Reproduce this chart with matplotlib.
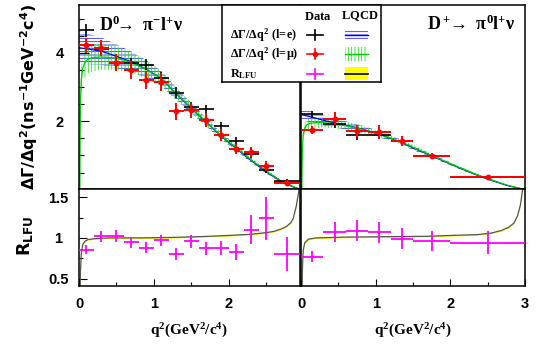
import matplotlib
matplotlib.use("Agg")
import matplotlib.pyplot as plt
from matplotlib.patches import Rectangle
import numpy as np

plt.rcParams['mathtext.fontset'] = 'custom'
plt.rcParams['mathtext.rm'] = 'Liberation Serif:bold'
plt.rcParams['mathtext.bf'] = 'Liberation Serif:bold'
plt.rcParams['mathtext.it'] = 'Liberation Serif:bold'
plt.rcParams['hatch.linewidth'] = 0.6
SANS = ['Liberation Sans', 'DejaVu Sans']

# ---------------- data: D0 -> pi- l+ nu ----------------
d0_q2 = [0.1, 0.3, 0.5, 0.7, 0.9, 1.1, 1.3, 1.5, 1.7, 1.9, 2.1, 2.3, 2.5, 2.78]
d0_dq = [0.1, 0.1, 0.1, 0.1, 0.1, 0.1, 0.1, 0.1, 0.1, 0.1, 0.1, 0.1, 0.1, 0.18]
d0_e = [4.66, 4.10, 3.69, 3.69, 3.66, 3.28, 2.84, 2.41, 2.35, 1.85, 1.43, 1.03, 0.58, 0.26]
d0_e_err = [0.19, 0.17, 0.17, 0.17, 0.17, 0.16, 0.15, 0.14, 0.13, 0.12, 0.11, 0.10, 0.10, 0.05]
d0_mu = [4.22, 4.14, 3.71, 3.50, 3.21, 3.14, 2.29, 2.32, 2.03, 1.60, 1.18, 1.11, 0.70, 0.21]
d0_mu_err = [0.22, 0.24, 0.25, 0.27, 0.27, 0.26, 0.24, 0.22, 0.20, 0.18, 0.15, 0.15, 0.15, 0.06]
d0_R = [0.857, 1.02, 1.025, 0.945, 0.88, 0.97, 0.805, 0.96, 0.875, 0.875, 0.83, 1.10, 1.24, 0.80]
d0_R_err = [0.05, 0.07, 0.07, 0.07, 0.07, 0.07, 0.07, 0.08, 0.08, 0.09, 0.10, 0.18, 0.26, 0.21]

# LQCD curves
d0_th_q2 = [0.0, 0.1, 0.3, 0.5, 0.7, 0.9, 1.1, 1.3, 1.5, 1.7, 1.9, 2.1, 2.3, 2.5, 2.7, 2.85, 2.96]
d0_th_e = [4.15, 4.12, 4.05, 3.90, 3.74, 3.52, 3.25, 2.80, 2.38, 1.97, 1.56, 1.20, 0.85, 0.52, 0.24, 0.09, 0.0]
d0_th_e_w = [0.48, 0.45, 0.40, 0.35, 0.30, 0.26, 0.22, 0.18, 0.15, 0.12, 0.10, 0.08, 0.06, 0.05, 0.03, 0.02, 0.0]
d0_thm_q2 = [0.0112, 0.015, 0.02, 0.03, 0.05, 0.08, 0.12, 0.2, 0.3, 0.5, 0.7, 0.9, 1.1, 1.3, 1.5, 1.7, 1.9, 2.1, 2.3, 2.5, 2.7, 2.85, 2.96]
d0_th_mu = [0.0, 1.6, 2.6, 3.2, 3.55, 3.72, 3.82, 3.87, 3.88, 3.85, 3.72, 3.51, 3.25, 2.80, 2.39, 1.98, 1.57, 1.22, 0.87, 0.54, 0.25, 0.10, 0.0]
d0_th_mu_w = [0.0, 0.2, 0.3, 0.35, 0.4, 0.42, 0.42, 0.40, 0.38, 0.34, 0.30, 0.26, 0.22, 0.18, 0.15, 0.12, 0.10, 0.08, 0.06, 0.05, 0.03, 0.02, 0.0]
d0_thR_q2 = [0.0112, 0.015, 0.02, 0.03, 0.05, 0.08, 0.12, 0.2, 0.4, 0.8, 1.2, 1.6, 2.0, 2.3, 2.5, 2.6, 2.7, 2.77, 2.83, 2.86, 2.9, 2.93, 2.96]
d0_thR = [0.0, 0.35, 0.6, 0.8, 0.92, 0.96, 0.98, 0.99, 1.0, 1.0, 1.005, 1.015, 1.03, 1.045, 1.065, 1.08, 1.11, 1.14, 1.19, 1.24, 1.39, 1.55, 1.8]

# ---------------- data: D+ -> pi0 l+ nu ----------------
dp_q2 = [0.15, 0.45, 0.75, 1.05, 1.35, 1.75, 2.5]
dp_dq = [0.15, 0.15, 0.15, 0.15, 0.15, 0.25, 0.5]
dp_e = [2.20, 1.93, 1.59, 1.60, 1.43, 0.99, 0.37]
dp_e_err = [0.11, 0.12, 0.14, 0.13, 0.10, 0.06, 0.03]
dp_mu = [1.75, 2.07, 1.72, 1.69, 1.43, 0.99, 0.37]
dp_mu_err = [0.12, 0.19, 0.17, 0.20, 0.15, 0.08, 0.04]
dp_R = [0.77, 1.07, 1.09, 1.07, 0.99, 0.96, 0.94]
dp_R_err = [0.07, 0.12, 0.13, 0.13, 0.13, 0.12, 0.14]

dp_th_q2 = [0.0, 0.15, 0.3, 0.45, 0.6, 0.75, 0.9, 1.05, 1.2, 1.35, 1.5, 1.75, 2.0, 2.25, 2.5, 2.75, 3.0]
dp_th_e = [2.20, 2.12, 2.03, 1.95, 1.88, 1.81, 1.72, 1.62, 1.50, 1.38, 1.22, 0.99, 0.75, 0.52, 0.31, 0.13, 0.0]
dp_th_e_w = [0.17, 0.16, 0.15, 0.13, 0.12, 0.11, 0.10, 0.09, 0.08, 0.07, 0.06, 0.05, 0.04, 0.03, 0.02, 0.01, 0.0]
dp_thm_q2 = [0.0112, 0.015, 0.02, 0.03, 0.05, 0.08, 0.12, 0.2, 0.3, 0.45, 0.6, 0.75, 0.9, 1.05, 1.2, 1.35, 1.5, 1.75, 2.0, 2.25, 2.5, 2.75, 3.0]
dp_th_mu = [0.0, 0.8, 1.25, 1.6, 1.8, 1.9, 1.94, 1.96, 1.96, 1.93, 1.87, 1.80, 1.72, 1.62, 1.51, 1.39, 1.24, 1.00, 0.76, 0.53, 0.32, 0.14, 0.0]
dp_th_mu_w = [0.0, 0.08, 0.1, 0.12, 0.14, 0.15, 0.15, 0.15, 0.14, 0.13, 0.12, 0.11, 0.10, 0.09, 0.08, 0.07, 0.06, 0.05, 0.04, 0.03, 0.02, 0.01, 0.0]
dp_thR_q2 = [0.0112, 0.015, 0.02, 0.03, 0.05, 0.1, 0.2, 0.6, 1.2, 1.7, 2.0, 2.36, 2.55, 2.68, 2.78, 2.85, 2.9, 2.94, 2.97, 3.0]
dp_thR = [0.0, 0.4, 0.65, 0.85, 0.94, 0.985, 1.0, 1.01, 1.015, 1.02, 1.03, 1.04, 1.06, 1.09, 1.13, 1.18, 1.27, 1.41, 1.61, 1.9]

# ---------------- layout ----------------
W, H = 554, 352
fig = plt.figure(figsize=(W / 100, H / 100), dpi=100)

def ax_px(x0, y0, x1, y1):
    return fig.add_axes([x0 / W, 1 - y1 / H, (x1 - x0) / W, (y1 - y0) / H])

axTL = ax_px(79, 5, 300, 189)
axTR = ax_px(301, 5, 525, 189)
axBL = ax_px(79, 189, 300, 286)
axBR = ax_px(301, 189, 525, 286)

BLUE = '#2b2bff'
GREEN = '#22dd22'
MAG = '#ff00ff'

def top_panel(ax, q2, dq, e, ee, mu, me, thq, the, thew, thmq, thm, thmw, xmax):
    ax.fill_between(thq, np.array(the) - np.array(thew), np.array(the) + np.array(thew),
                    facecolor='none', edgecolor=BLUE, hatch='-----', linewidth=0, zorder=1)
    ax.fill_between(thmq, np.array(thm) - np.array(thmw), np.array(thm) + np.array(thmw),
                    facecolor='none', edgecolor=GREEN, hatch='|||||', linewidth=0, zorder=1)
    ax.plot(thq, the, color='#0000ee', lw=0.9, zorder=2)
    ax.plot(thmq, thm, color='#00cc00', lw=0.9, zorder=2)
    ax.errorbar(q2, e, xerr=dq, yerr=ee, fmt='none', ecolor='black', elinewidth=1.2, capsize=0, zorder=3)
    ax.errorbar(q2, mu, xerr=dq, yerr=me, fmt='o', color='red', ecolor='red', ms=3.2,
                elinewidth=1.4, capsize=0, zorder=4)
    ax.set_xlim(0, xmax)
    ax.set_ylim(0.02, 5.4)

def ratio_panel(ax, q2, dq, R, Re, thq, thR, xmax):
    thR = np.array(thR)
    ax.fill_between(thq, thR - 0.008, thR + 0.008, color='#ffff00', lw=0, zorder=1)
    ax.plot(thq, thR, color='#55554a', lw=0.9, zorder=2)
    ax.errorbar(q2, R, xerr=dq, yerr=Re, fmt='none', ecolor=MAG, elinewidth=1.3, capsize=0, zorder=3)
    ax.set_xlim(0, xmax)
    ax.set_ylim(0.41, 1.6)

top_panel(axTL, d0_q2, d0_dq, d0_e, d0_e_err, d0_mu, d0_mu_err,
          d0_th_q2, d0_th_e, d0_th_e_w, d0_thm_q2, d0_th_mu, d0_th_mu_w, 2.95)
top_panel(axTR, dp_q2, dp_dq, dp_e, dp_e_err, dp_mu, dp_mu_err,
          dp_th_q2, dp_th_e, dp_th_e_w, dp_thm_q2, dp_th_mu, dp_th_mu_w, 3.0)
ratio_panel(axBL, d0_q2, d0_dq, d0_R, d0_R_err, d0_thR_q2, d0_thR, 2.95)
ratio_panel(axBR, dp_q2, dp_dq, dp_R, dp_R_err, dp_thR_q2, dp_thR, 3.0)

for ax in (axTL, axTR, axBL, axBR):
    for s in ax.spines.values():
        s.set_linewidth(1.1)
    ax.tick_params(which='both', direction='in', width=0.8)

tickfont = dict(family=SANS, weight='bold', size=10.5)
# top-left y ticks
axTL.set_xticks([])
axTL.set_yticks([2, 4])
axTL.set_yticks(np.arange(0.5, 5.5, 0.5), minor=True)
axTL.set_yticklabels(['2', '4'], **tickfont)
axTL.tick_params(axis='y', which='major', length=7, pad=14)
axTL.tick_params(axis='y', which='minor', length=3.5)
for lab in axTL.get_yticklabels():
    lab.set_ha('center')
axTR.set_xticks([])
axTR.set_yticks([])

axBL.set_yticks([0.5, 1, 1.5])
axBL.set_yticks([0.75, 1.25], minor=True)
axBL.set_yticklabels(['0.5', '1', '1.5'], **tickfont)
axBL.tick_params(axis='y', which='major', length=6, pad=15)
axBL.tick_params(axis='y', which='minor', length=3)
for lab in axBL.get_yticklabels():
    lab.set_ha('center')
axBR.set_yticks([])

for ax, xmax, labs in ((axBL, 2.95, [0, 1, 2]), (axBR, 3.0, [0, 1, 2, 3])):
    ax.set_xticks(labs)
    ax.set_xticklabels([str(v) for v in labs], **tickfont)
    ax.set_xticks(np.arange(0.5, xmax, 1.0), minor=True)
    ax.tick_params(axis='x', which='major', length=5, pad=8)
    ax.tick_params(axis='x', which='minor', length=3)

# axis titles
fig.text(29 / W, 1 - 97 / H, r'$\mathbf{\Delta\Gamma/\Delta q^2(ns^{-1}GeV^{-2}c^4)}$',
         rotation=90, ha='center', va='center', fontsize=11.5, math_fontfamily='dejavusans')
fig.text(25 / W, 1 - 236 / H, r'$\mathbf{R_{LFU}}$', rotation=90, ha='center', va='center',
         fontsize=12.5, math_fontfamily='dejavusans')
for xc in (189, 413):
    fig.text(xc / W, 1 - 331 / H, r'$\mathrm{q^2(GeV^2/c^4)}$', ha='center', va='center', fontsize=11)

fig.text(141 / W, 1 - 25 / H, r'$\mathrm{D^0\!\!{\rightarrow}\ \pi^{-}l^{+}\nu}$',
         ha='center', va='center', fontsize=13)
fig.text(471 / W, 1 - 24 / H, r'$\mathrm{D^+\!\!{\rightarrow}\ \pi^{0}l^{+}\nu}$',
         ha='center', va='center', fontsize=13)

# legend
lg = ax_px(222, 5, 381, 82)
lg.set_xlim(222, 381)
lg.set_ylim(82, 5)
lg.set_xticks([])
lg.set_yticks([])
for s in lg.spines.values():
    s.set_linewidth(1.1)
lg.set_zorder(10)
lg.text(318, 16, r'$\mathrm{Data}$', ha='center', va='center', fontsize=9)
lg.text(360, 16, r'$\mathrm{LQCD}$', ha='center', va='center', fontsize=9)
rows = [(35, r'$\mathrm{\Delta\Gamma/\Delta q^2\ (l\!=\!e)}$'),
        (54, r'$\mathrm{\Delta\Gamma/\Delta q^2\ (l\!=\!\mu)}$'),
        (74, r'$\mathrm{R_{LFU}}$')]
for y, t in rows:
    lg.text(230, y, t, ha='left', va='center', fontsize=8.7)
for (y, _), c, mk in zip(rows, ['black', 'red', MAG], [False, True, False]):
    lg.plot([307, 323], [y, y], color=c, lw=1.2)
    lg.plot([315, 315], [y - 5, y + 5], color=c, lw=1.2)
    if mk:
        lg.plot([315], [y], 'o', color=c, ms=3)
lg.add_patch(Rectangle((345, 31), 23, 8, facecolor='none', edgecolor=BLUE, hatch='-----', lw=0))
lg.plot([345, 368], [35, 35], color='#0000ee', lw=1)
lg.add_patch(Rectangle((345, 47), 23, 14, facecolor='none', edgecolor=GREEN, hatch='|||||', lw=0))
lg.plot([345, 368], [54, 54], color='#00cc00', lw=1)
lg.add_patch(Rectangle((345, 67), 23, 13, facecolor='#ffff00', lw=0))
lg.plot([345, 368], [73.5, 73.5], color='black', lw=1.2)

fig.savefig('out.png', dpi=100)
